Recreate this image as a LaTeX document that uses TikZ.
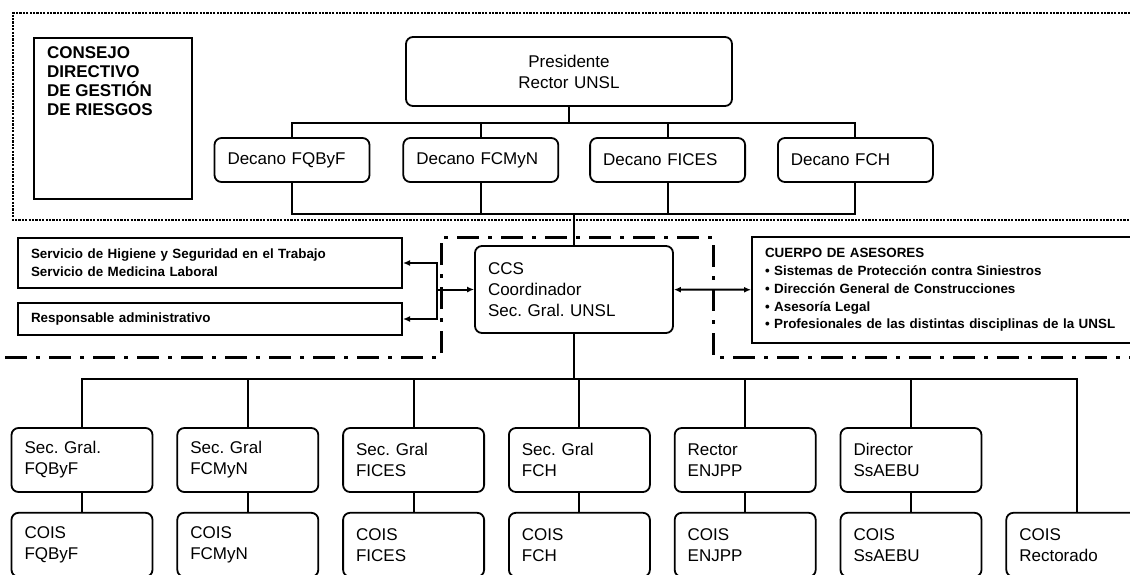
\documentclass[tikz,border=0pt]{standalone}
\usepackage{fontspec}
\setmainfont{Liberation Sans}
\usetikzlibrary{positioning}
\usetikzlibrary{arrows.meta}
\frenchspacing
\tikzset{
  caja/.style={draw,line width=1.8pt,rounded corners=7pt,fill=white,align=left,inner xsep=13pt,inner ysep=0pt,font=\fontsize{17}{21}\selectfont},
  decano/.style={caja,text width=129pt,minimum height=44pt},
  unidad/.style={caja,text width=115pt,minimum height=64pt},
  recuadro/.style={draw,line width=2pt,fill=white,align=left,inner xsep=13pt,inner ysep=0pt,font=\fontsize{13.4}{17.8}\selectfont\bfseries},
  enlace/.style={draw,line width=2pt},
  flecha/.style={line width=2pt,-{Latex[length=7pt,width=6pt]}},
  punteado/.style={line width=2.6pt,dash pattern=on 2.2pt off 1.2pt},
  rayapunto/.style={line width=3pt,dash pattern=on 22pt off 9pt on 4pt off 9pt}
}
\begin{document}
\begin{tikzpicture}[x=1pt,y=-1pt]
\useasboundingbox (0,0) rectangle (1130,574);
\draw[punteado] (1130,13) -- (13,13) -- (13,220) -- (1130,220);
\draw[rayapunto] (5,357) -| (441,237) -| (713,357) -- (1130,357);

\node[draw,line width=2pt,anchor=north west,inner xsep=13pt,inner ysep=9pt,font=\fontsize{17}{19}\selectfont\bfseries](consejo) at (33,37)
  {\parbox[t][143pt][t]{132pt}{CONSEJO\\DIRECTIVO\\DE GESTIÓN\\DE RIESGOS}};
\node[caja,align=center,text width=300pt,minimum height=69pt](pres) at (569,71.5){Presidente\\Rector UNSL};
\node[decano](dA) at (292,160){Decano FQByF};
\node[decano, right = 32pt of dA](dB){Decano FCMyN};
\node[decano, right = 30pt of dB](dC){Decano FICES};
\node[decano, right = 31pt of dC](dD){Decano FCH};
\coordinate[below = 16pt of pres](topbus);
\coordinate[below = 31pt of dB](botbus);
\draw[enlace] (pres) -- (topbus);
\draw[enlace] (dA.north) |- (topbus) -| (dD.north);
\draw[enlace] (dA.south) |- (botbus) -| (dD.south);
\draw[enlace] (dB.north) -- (dB.north |- topbus);
\draw[enlace] (dC.north) -- (dC.north |- topbus);
\draw[enlace] (dB.south) -- (dB.south |- botbus);
\draw[enlace] (dC.south) -- (dC.south |- botbus);

\node[caja,text width=172pt,minimum height=87pt](ccs) at (574,289.5){CCS\\Coordinador\\Sec. Gral. UNSL};
\draw[enlace] (ccs.north) -- (ccs.north |- botbus);
\node[recuadro,text width=358pt,minimum height=50pt](serv) at (210,263){Servicio de Higiene y Seguridad en el Trabajo\\Servicio de Medicina Laboral};
\node[recuadro,text width=358pt,minimum height=32pt, below = 13pt of serv](resp){Responsable administrativo};
\node[recuadro,text width=380pt,minimum height=106pt,anchor=west](ase) at (751,290){CUERPO DE ASESORES\\
  • Sistemas de Protección contra Siniestros\\
  • Dirección General de Construcciones\\
  • Asesoría Legal\\
  • Profesionales de las distintas disciplinas de la UNSL};
\coordinate[left = 37pt of ccs](nudo);
\draw[flecha] (nudo) -- (ccs);
\draw[flecha] (nudo) |- (serv.east);
\draw[flecha] (nudo) |- (resp.east);
\draw[flecha,{Latex[length=7pt,width=6pt]}-{Latex[length=7pt,width=6pt]}] (ccs) -- (ase);

\coordinate[below = 45pt of ccs](bus);
\node[unidad](sA) at (82,460){Sec. Gral.\\FQByF};
\node[unidad, right = 23pt of sA](sB){Sec. Gral\\FCMyN};
\node[unidad, right = 23pt of sB](sC){Sec. Gral\\FICES};
\node[unidad, right = 23pt of sC](sD){Sec. Gral\\FCH};
\node[unidad, right = 23pt of sD](sE){Rector\\ENJPP};
\node[unidad, right = 23pt of sE](sF){Director\\SsAEBU};
\node[unidad, below = 19pt of sA](cA){COIS\\FQByF};
\node[unidad, below = 19pt of sB](cB){COIS\\FCMyN};
\node[unidad, below = 19pt of sC](cC){COIS\\FICES};
\node[unidad, below = 19pt of sD](cD){COIS\\FCH};
\node[unidad, below = 19pt of sE](cE){COIS\\ENJPP};
\node[unidad, below = 19pt of sF](cF){COIS\\SsAEBU};
\node[unidad, right = 23pt of cF](cG){COIS\\Rectorado};
\draw[enlace] (ccs) -- (bus);
\draw[enlace] (sA.north) |- (bus) -| (cG.north);
\draw[enlace] (sB.north) -- (sB.north |- bus);
\draw[enlace] (sC.north) -- (sC.north |- bus);
\draw[enlace] (sD.north) -- (sD.north |- bus);
\draw[enlace] (sE.north) -- (sE.north |- bus);
\draw[enlace] (sF.north) -- (sF.north |- bus);
\draw[enlace] (sA) -- (cA);
\draw[enlace] (sB) -- (cB);
\draw[enlace] (sC) -- (cC);
\draw[enlace] (sD) -- (cD);
\draw[enlace] (sE) -- (cE);
\draw[enlace] (sF) -- (cF);
\end{tikzpicture}
\end{document}
